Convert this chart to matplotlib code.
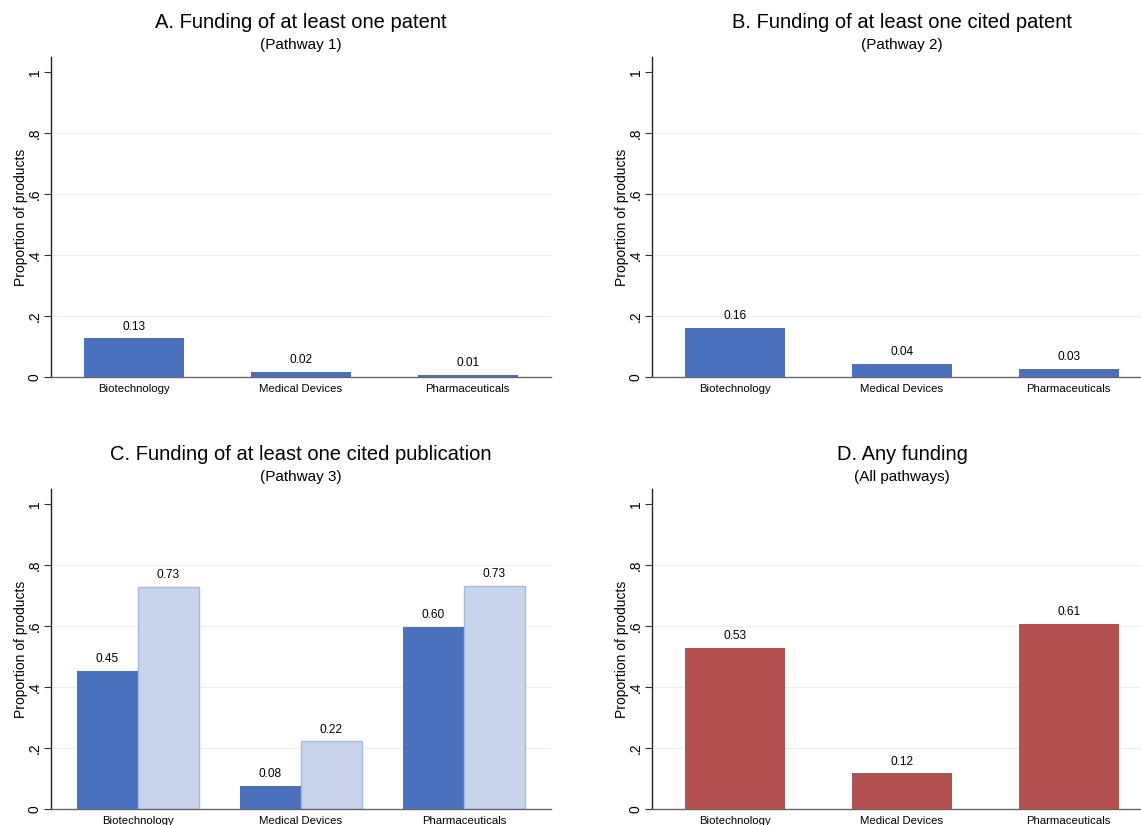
import numpy as np
import matplotlib.pyplot as plt

plt.rcParams['font.family'] = ['Liberation Sans', 'DejaVu Sans']

categories = ["Biotechnology", "Medical Devices", "Pharmaceuticals"]

pathway1 = [0.127, 0.018, 0.008]
pathway2 = [0.161, 0.044, 0.027]
pathway3_dark = [0.453, 0.077, 0.597]
pathway3_light = [0.728, 0.222, 0.731]
any_funding = [0.528, 0.117, 0.607]

yticks = [0, 0.2, 0.4, 0.6, 0.8, 1.0]
ytick_labels = ["0", ".2", ".4", ".6", ".8", "1"]

titles = [
    ("A. Funding of at least one patent", "(Pathway 1)"),
    ("B. Funding of at least one cited patent", "(Pathway 2)"),
    ("C. Funding of at least one cited publication", "(Pathway 3)"),
    ("D. Any funding", "(All pathways)"),
]

BLUE = "#4b71bd"
LIGHT = "#c8d4eb"
LIGHT_EDGE = "#a5b8e2"
RED = "#b35151"
GRID = "#e9f0f2"

W, H = 1141, 825
fig = plt.figure(figsize=(W / 100, H / 100), dpi=100)


def px_axes(left, top, right, bottom):
    return fig.add_axes([left / W, 1 - bottom / H, (right - left) / W, (bottom - top) / H])


def style(ax, title, subtitle):
    ax.set_ylim(0, 1.049)
    ax.set_yticks(yticks)
    ax.set_yticklabels(ytick_labels, rotation=90, va="center", fontsize=10)
    ax.tick_params(axis="y", length=5, width=0.8, color="#333333", pad=1.5)
    ax.tick_params(axis="x", length=0, pad=5, labelsize=8.2)
    for y in yticks[1:-1]:
        ax.axhline(y, color=GRID, lw=0.8, zorder=0)
    ax.spines["top"].set_visible(False)
    ax.spines["right"].set_visible(False)
    ax.spines["left"].set_color("#222222")
    ax.spines["left"].set_linewidth(1.0)
    ax.spines["bottom"].set_color("#666666")
    ax.spines["bottom"].set_linewidth(1.0)
    ax.set_ylabel("Proportion of products", fontsize=10, labelpad=0)
    ax.text(0.5, 1.0 + 34 / 320, title, transform=ax.transAxes, ha="center", va="center", fontsize=14.5)
    ax.text(0.5, 1.0 + 12 / 320, subtitle, transform=ax.transAxes, ha="center", va="center", fontsize=11)


def label_bars(ax, bars, values):
    for b, v in zip(bars, values):
        ax.annotate(f"{v:.2f}", (b.get_x() + b.get_width() / 2, v), xytext=(0, 4),
                    textcoords="offset points", ha="center", va="bottom", fontsize=8.6)


x = np.arange(len(categories))

# top row
axA = px_axes(50.7, 57, 551, 377)
axB = px_axes(652, 57, 1152, 377)
# bottom row
axC = px_axes(50.7, 489, 551, 809)
axD = px_axes(652, 489, 1152, 809)

for ax, vals, color, (t, s) in [(axA, pathway1, BLUE, titles[0]),
                                (axB, pathway2, BLUE, titles[1]),
                                (axD, any_funding, RED, titles[3])]:
    bars = ax.bar(x, vals, width=0.6, color=color, zorder=2)
    label_bars(ax, bars, vals)
    ax.set_xlim(-0.5, 2.5)
    ax.set_xticks(x)
    ax.set_xticklabels(categories)
    style(ax, t, s)

bw = 0.375
bars1 = axC.bar(x - bw / 2, pathway3_dark, width=bw, color=BLUE, zorder=2)
bars2 = axC.bar(x + bw / 2, pathway3_light, width=bw, color=LIGHT, edgecolor=LIGHT_EDGE, lw=1.0, zorder=2)
label_bars(axC, bars1, pathway3_dark)
label_bars(axC, bars2, pathway3_light)
axC.set_xlim(-0.535, 2.535)
axC.set_xticks(x)
axC.set_xticklabels(categories)
style(axC, *titles[2])

fig.savefig("out.png", dpi=100)
